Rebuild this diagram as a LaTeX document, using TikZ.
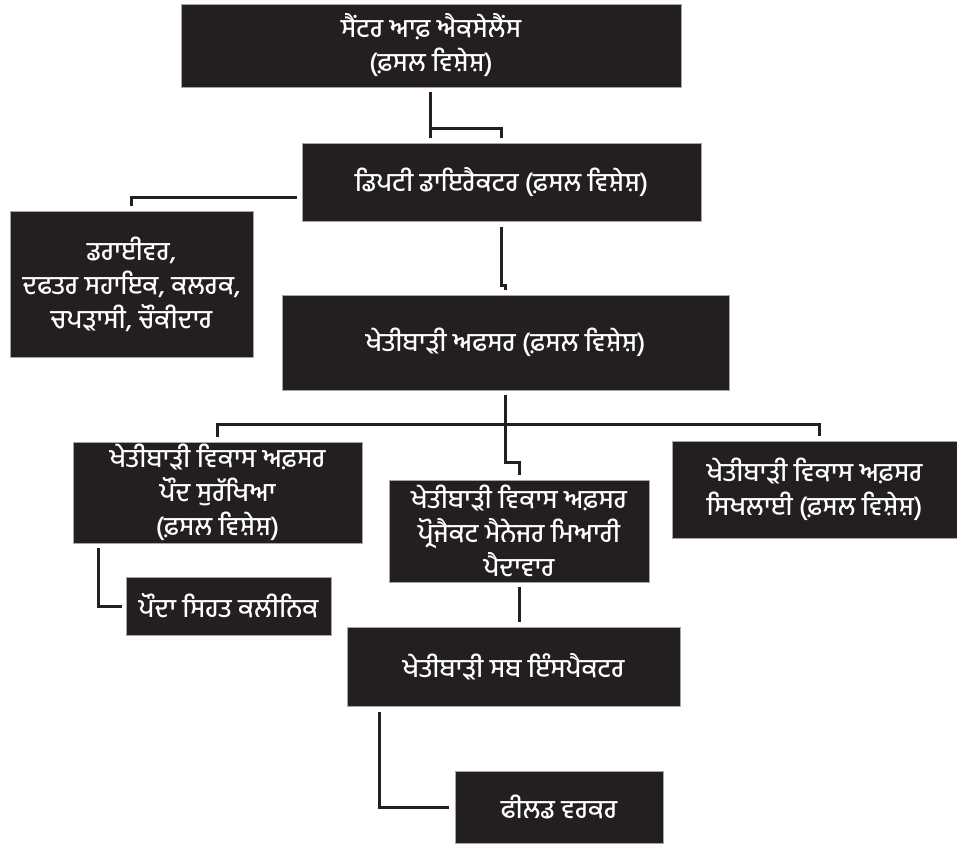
\documentclass[tikz,border=0pt]{standalone}
\usepackage{fontspec}
\newfontfamily\pafont[Script=Gurmukhi]{Hind Jalandhar Medium}
\usetikzlibrary{calc}
\definecolor{boxfill}{RGB}{35,31,32}
\tikzset{
 post/.style={fill=boxfill,draw=gray!70,line width=0.8pt,text=white,align=center,inner sep=0pt,
   font=\pafont\fontsize{26}{34}\selectfont},
 link/.style={line width=3pt,draw=boxfill}
}

\begin{document}
\begin{tikzpicture}[x=1pt,y=-1pt]
\useasboundingbox (0,0) rectangle (957,843);
\node[post,minimum width=500,minimum height=83] (coe) at (431,45.5) {ਸੈਂਟਰ ਆਫ਼ ਐਕਸੇਲੈਂਸ\\(ਫ਼ਸਲ ਵਿਸ਼ੇਸ਼)};
\node[post,minimum width=399,minimum height=78] (ddir) at (501.5,182) {ਡਿਪਟੀ ਡਾਇਰੈਕਟਰ (ਫ਼ਸਲ ਵਿਸ਼ੇਸ਼)};
\node[post,minimum width=243,minimum height=146] (staff) at (131.5,284) {ਡਰਾਈਵਰ,\\ਦਫਤਰ ਸਹਾਇਕ, ਕਲਰਕ,\\ਚਪੜਾਸੀ, ਚੌਕੀਦਾਰ};
\node[post,minimum width=447,minimum height=95] (ao) at (505.5,342.5) {ਖੇਤੀਬਾੜੀ ਅਫਸਰ (ਫ਼ਸਲ ਵਿਸ਼ੇਸ਼)};
\node[post,minimum width=289,minimum height=101] (adopp) at (217.5,492.5) {ਖੇਤੀਬਾੜੀ ਵਿਕਾਸ ਅਫ਼ਸਰ\\ਪੌਦ ਸੁਰੱਖਿਆ\\(ਫ਼ਸਲ ਵਿਸ਼ੇਸ਼)};
\node[post,minimum width=260,minimum height=102] (adopm) at (519,531) {ਖੇਤੀਬਾੜੀ ਵਿਕਾਸ ਅਫ਼ਸਰ\\ਪ੍ਰੋਜੈਕਟ ਮੈਨੇਜਰ ਮਿਆਰੀ\\ਪੈਦਾਵਾਰ};
\node[post,minimum width=285,minimum height=97] (adotr) at (814.5,489.5) {ਖੇਤੀਬਾੜੀ ਵਿਕਾਸ ਅਫ਼ਸਰ\\ਸਿਖਲਾਈ (ਫ਼ਸਲ ਵਿਸ਼ੇਸ਼)};
\node[post,minimum width=205,minimum height=58] (clinic) at (228.5,606) {ਪੌਦਾ ਸਿਹਤ ਕਲੀਨਿਕ};
\node[post,minimum width=333,minimum height=79] (asi) at (513.5,666.5) {ਖੇਤੀਬਾੜੀ ਸਬ ਇੰਸਪੈਕਟਰ};
\node[post,minimum width=208,minimum height=72] (field) at (559,807) {ਫੀਲਡ ਵਰਕਰ};

% connectors
\draw[link] ([xshift=-1pt,yshift=-5pt]coe.south) -- ++(0,46);
\draw[link] ([xshift=-1pt,yshift=-41pt]coe.south) -| ([yshift=5pt]ddir.north);
\draw[link] ([xshift=-5pt,yshift=-15pt]ddir.west) -| ([yshift=5pt]staff.north);
\draw[link] ([yshift=-6pt]ddir.south) |- ([yshift=9pt]ao.north) -- ([yshift=5pt]ao.north);
\draw[link] ([yshift=-5pt]ao.south) |- ([yshift=17pt]adopm.north) -- ([yshift=5pt]adopm.north);
\draw[link] ([yshift=5pt]adopp.north) |- ([xshift=5pt,yshift=16pt]adotr.north) -- ([xshift=5pt,yshift=5pt]adotr.north);
\draw[link] ([xshift=26pt,yshift=-5pt]adopp.south west) |- ([xshift=-4pt]clinic.west);
\draw[link] ([yshift=-5pt]adopm.south) -- ++(0,35);
\draw[link] ([xshift=33pt,yshift=-6pt]asi.south west) |- ([xshift=-6pt]field.west);
\end{tikzpicture}
\end{document}
